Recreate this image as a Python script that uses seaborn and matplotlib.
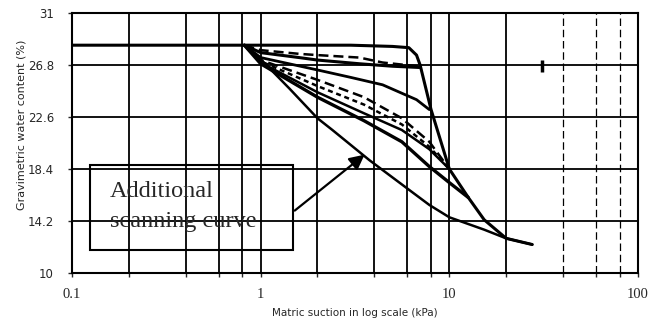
import matplotlib
matplotlib.use("Agg")
import matplotlib.pyplot as plt
import seaborn as sns
import numpy as np
from matplotlib.patches import Rectangle
from matplotlib.ticker import NullFormatter, FixedLocator, FixedFormatter

# ---------------- data ----------------
main_dry_x = [0.1, 1, 3, 5, 6.1, 6.7, 7.0, 8.0, 10, 12.6, 15.3, 20, 27.5]
main_dry_y = [28.4, 28.4, 28.4, 28.3, 28.2, 27.6, 26.8, 23.2, 18.4, 16.1, 14.3, 12.8, 12.3]

scan_top_dash_x = [0.82, 1.0, 1.6, 2.0, 3.34, 4.43, 6.8]
scan_top_dash_y = [28.4, 28.0, 27.7, 27.6, 27.4, 27.0, 26.7]

scan_top_solid_x = [0.82, 1.0, 1.6, 2.0, 3.34, 5.0, 6.94]
scan_top_solid_y = [28.4, 27.8, 27.4, 27.2, 26.9, 26.7, 26.6]

scan_d_x = [0.82, 1.0, 2.0, 3.0, 4.43, 6.7, 7.83]
scan_d_y = [28.4, 27.4, 26.4, 25.8, 25.2, 24.0, 23.2]

scan_e_x = [0.82, 1.0, 2.0, 3.53, 5.6, 7.83, 10]
scan_e_y = [28.4, 27.2, 25.6, 24.2, 22.5, 20.6, 18.4]

scan_e2_x = [0.82, 1.0, 2.0, 3.53, 5.6, 7.83, 10]
scan_e2_y = [28.4, 27.1, 25.1, 23.6, 22.0, 20.2, 18.4]

scan_f_x = [0.82, 1.0, 2.0, 3.53, 5.6, 7.83, 10]
scan_f_y = [28.4, 27.0, 24.6, 22.9, 21.55, 20.0, 18.4]

scan_g_x = [0.82, 1.0, 2.0, 3.53, 5.6, 7.83, 10, 12.6]
scan_g_y = [28.4, 26.9, 24.2, 22.3, 20.6, 18.6, 17.3, 16.1]

lowest_x = [0.82, 1.01, 1.42, 2.0, 2.4, 3.78, 6.14, 7.83, 10.0, 15.3, 20, 27.5]
lowest_y = [28.4, 27.2, 24.9, 22.5, 21.55, 19.1, 16.7, 15.5, 14.5, 13.5, 12.8, 12.3]

stray_x = [31]
stray_y = [26.75]

y_ticks = [10, 14.2, 18.4, 22.6, 26.8, 31]
y_tick_labels = ["10", "14.2", "18.4", "22.6", "26.8", "31"]
x_ticks = [0.1, 1, 10, 100]
x_tick_labels = ["0.1", "1", "10", "100"]
minor_grid = [0.2, 0.4, 0.6, 0.8, 2, 4, 6, 8, 20, 40, 60, 80]

annot_lines = ["Additional", "scanning curve"]
arrow_tip = (3.65, 19.7)
arrow_tail = (1.476, 14.9)

# ---------------- figure ----------------
sns.set_style("white")
plt.rcParams["font.family"] = ["DejaVu Sans"]

fig = plt.figure(figsize=(6.61, 3.20), dpi=100)
ax = fig.add_axes([72 / 661, 1 - 273 / 320, 566 / 661, 260 / 320])
ax.set_xscale("log")
ax.set_xlim(0.1, 100)
ax.set_ylim(10, 31)

# grid
for yv in y_ticks[1:-1]:
    ax.axhline(yv, color="black", lw=1.3, zorder=1)
for xv in x_ticks[1:-1]:
    ax.axvline(xv, color="black", lw=1.3, zorder=1)
for xv in minor_grid:
    if xv >= 30:
        ax.axvline(xv, color="black", lw=0.9, ls=(0, (6, 3)), zorder=1)
    else:
        ax.axvline(xv, color="black", lw=1.3, zorder=1)

curves = [
    (main_dry_x, main_dry_y, "-", 2.2),
    (scan_top_dash_x, scan_top_dash_y, (0, (4, 2)), 1.8),
    (scan_top_solid_x, scan_top_solid_y, "-", 2.2),
    (scan_d_x, scan_d_y, "-", 2.0),
    (scan_e_x, scan_e_y, (0, (4, 2)), 1.8),
    (scan_e2_x, scan_e2_y, (0, (2, 1.5)), 1.8),
    (scan_f_x, scan_f_y, "-", 1.8),
    (scan_g_x, scan_g_y, "-", 2.4),
    (lowest_x, lowest_y, "-", 1.8),
]
for cx, cy, ls, lw in curves:
    sns.lineplot(x=cx, y=cy, sort=False, estimator=None, color="black",
                 linestyle=ls, linewidth=lw, ax=ax, zorder=3)

ax.plot(stray_x, stray_y, marker="|", markersize=8, mew=2.5, color="black",
        ls="none", zorder=4)

# spines
for s in ax.spines.values():
    s.set_visible(True)
    s.set_color("black")
    s.set_linewidth(1.5)

# ticks
ax.yaxis.set_major_locator(FixedLocator(y_ticks))
ax.yaxis.set_major_formatter(FixedFormatter(y_tick_labels))
ax.xaxis.set_major_locator(FixedLocator(x_ticks))
ax.xaxis.set_major_formatter(FixedFormatter(x_tick_labels))
ax.xaxis.set_minor_locator(FixedLocator(minor_grid))
ax.xaxis.set_minor_formatter(NullFormatter())
ax.tick_params(axis="y", which="major", length=3, width=1, pad=10,
               labelsize=8.5, direction="out", left=True)
ax.tick_params(axis="x", which="both", length=3, width=1, pad=8,
               direction="out", bottom=True)
plt.setp(ax.get_xticklabels(), family="Liberation Serif", fontsize=10.5)

ax.set_xlabel("Matric suction in log scale (kPa)", fontsize=7.5, labelpad=5)
ax.set_ylabel("Gravimetric water content (%)", fontsize=8)
ax.yaxis.set_label_coords(-0.08, 0.57)

# annotation box + arrow
ax.add_patch(Rectangle((18 / 566, 23 / 260), 203 / 566, 85 / 260,
                       transform=ax.transAxes, fill=False, ec="black",
                       lw=1.5, zorder=5))
ax.text(38 / 566, 0.292, annot_lines[0], transform=ax.transAxes,
        family="Liberation Serif", fontsize=17.5, va="baseline", ha="left",
        zorder=6)
ax.text(38 / 566, 0.177, annot_lines[1], transform=ax.transAxes,
        family="Liberation Serif", fontsize=17.5, va="baseline", ha="left",
        zorder=6)
ax.annotate("", xy=arrow_tip, xytext=arrow_tail,
            arrowprops=dict(arrowstyle="-|>,head_length=0.9,head_width=0.45",
                            color="black", lw=1.6), zorder=6)

fig.savefig("out.png", dpi=100)
